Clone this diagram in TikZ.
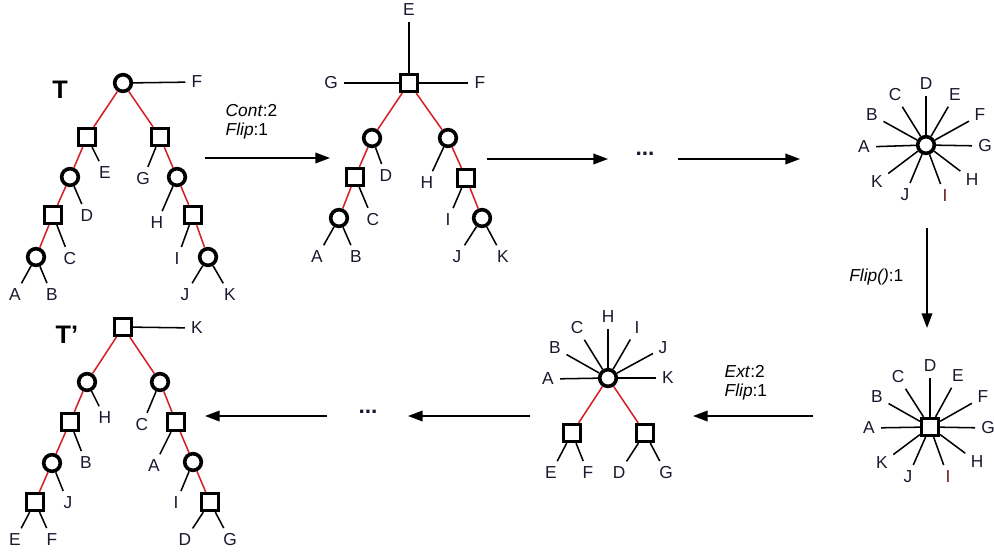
\documentclass[tikz,border=0pt]{standalone}
\usepackage{fontspec}
\setmainfont{Liberation Sans}
\usetikzlibrary{arrows.meta}
\definecolor{lblcol}{RGB}{25,25,48}
\definecolor{redge}{RGB}{214,32,40}
\definecolor{icol}{RGB}{110,25,35}

\begin{document}
\begin{tikzpicture}[
    x=0.75pt, y=-0.75pt,
    font=\fontsize{13}{14}\selectfont
]
	\tikzset{
	    cnode/.style = {circle, draw=black, line width=2.7pt, fill=white, minimum size=12.5pt, inner sep=0pt},
	    snode/.style = {rectangle, draw=black, line width=2.7pt, fill=white, minimum size=12.5pt, inner sep=0pt},
	    lbl/.style = {text=lblcol, inner sep=1.5pt},
	    tname/.style = {font=\fontsize{19}{20}\selectfont\bfseries},
	    dotsn/.style = {font=\fontsize{17}{18}\selectfont\bfseries, text=lblcol},
	    edger/.style = {line width=1.15pt, redge},
	    edgen/.style = {line width=1.15pt, black, shorten >=3pt},
	    edgea/.style = {-{Triangle[length=11pt,width=8pt]}, line width=1.15pt}
	}
	\useasboundingbox (0,0) rectangle (994,554);

	% tree T
	\node[tname] at (60,90) (tT) {T};
	\node[cnode] at (123,83) (t0) {};
	\node[snode] at (87,137) (t1) {};
	\node[snode] at (160,137) (t2) {};
	\node[cnode] at (70,177) (t3) {};
	\node[cnode] at (177,177) (t4) {};
	\node[snode] at (53,215) (t5) {};
	\node[snode] at (193,215) (t6) {};
	\node[cnode] at (36,257) (t7) {};
	\node[cnode] at (208,257) (t8) {};
	\node[lbl] at (197,82) (tF) {F};
	\node[lbl] at (105,173) (tE) {E};
	\node[lbl] at (143,179) (tG) {G};
	\node[lbl] at (87,216) (tD) {D};
	\node[lbl] at (157,223) (tH) {H};
	\node[lbl] at (70,259) (tC) {C};
	\node[lbl] at (177,259) (tI) {I};
	\node[lbl] at (15,295) (tA) {A};
	\node[lbl] at (52,295) (tB) {B};
	\node[lbl] at (185,295) (tJ) {J};
	\node[lbl] at (230,295) (tK) {K};
	\draw[edger] (t0) -- (t1) (t1) -- (t3) (t3) -- (t5) (t5) -- (t7)
	    (t0) -- (t2) (t2) -- (t4) (t4) -- (t6) (t6) -- (t8);
	\draw[edgen] (t0) edge (tF) (t1) edge (tE) (t2) edge (tG) (t3) edge (tD)
	    (t4) edge (tH) (t5) edge (tC) (t6) edge (tI) (t7) edge (tA) (t7) edge (tB)
	    (t8) edge (tJ) (t8) edge (tK);

	% after contraction
	\node[snode] at (409,83) (u0) {};
	\node[cnode] at (372,138) (u1) {};
	\node[cnode] at (448,138) (u2) {};
	\node[snode] at (355,177) (u3) {};
	\node[snode] at (466,178) (u4) {};
	\node[cnode] at (339,218) (u5) {};
	\node[cnode] at (482,218) (u6) {};
	\node[lbl] at (409,10) (uE) {E};
	\node[lbl] at (331,83) (uG) {G};
	\node[lbl] at (480,83) (uF) {F};
	\node[lbl] at (386,176) (uD) {D};
	\node[lbl] at (427,183) (uH) {H};
	\node[lbl] at (373,220) (uC) {C};
	\node[lbl] at (448,220) (uI) {I};
	\node[lbl] at (317,257) (uA) {A};
	\node[lbl] at (356,257) (uB) {B};
	\node[lbl] at (457,257) (uJ) {J};
	\node[lbl] at (503,257) (uK) {K};
	\draw[edger] (u0) -- (u1) (u1) -- (u3) (u3) -- (u5)
	    (u0) -- (u2) (u2) -- (u4) (u4) -- (u6);
	\draw[edgen] (u0) edge (uE) (u0) edge (uG) (u0) edge (uF) (u1) edge (uD)
	    (u2) edge (uH) (u3) edge (uC) (u4) edge (uI) (u5) edge (uA) (u5) edge (uB)
	    (u6) edge (uJ) (u6) edge (uK);

	% star with circle centre
	\node[cnode] at (926,145) (s0) {};
	\node[lbl] at (864,147) (sA) {A};
	\node[lbl] at (872,115) (sB) {B};
	\node[lbl] at (895,95) (sC) {C};
	\node[lbl] at (926,84) (sD) {D};
	\node[lbl] at (955,95) (sE) {E};
	\node[lbl] at (980,115) (sF) {F};
	\node[lbl] at (985,146) (sG) {G};
	\node[lbl] at (972,180) (sH) {H};
	\node[lbl, text=icol] at (945,196) (sI) {I};
	\node[lbl] at (905,195) (sJ) {J};
	\node[lbl] at (877,182) (sK) {K};
	\draw[edgen] (s0) edge (sA) (s0) edge (sB) (s0) edge (sC) (s0) edge (sD)
	    (s0) edge (sE) (s0) edge (sF) (s0) edge (sG) (s0) edge (sH)
	    (s0) edge (sI) (s0) edge (sJ) (s0) edge (sK);

	% star with square centre
	\node[snode] at (930,427) (r0) {};
	\node[lbl] at (869,428) (rA) {A};
	\node[lbl] at (877,397) (rB) {B};
	\node[lbl] at (898,377) (rC) {C};
	\node[lbl] at (930,366) (rD) {D};
	\node[lbl] at (958,376) (rE) {E};
	\node[lbl] at (983,397) (rF) {F};
	\node[lbl] at (988,428) (rG) {G};
	\node[lbl] at (977,462) (rH) {H};
	\node[lbl, text=icol] at (948,477) (rI) {I};
	\node[lbl] at (908,477) (rJ) {J};
	\node[lbl] at (882,463) (rK) {K};
	\draw[edgen] (r0) edge (rA) (r0) edge (rB) (r0) edge (rC) (r0) edge (rD)
	    (r0) edge (rE) (r0) edge (rF) (r0) edge (rG) (r0) edge (rH)
	    (r0) edge (rI) (r0) edge (rJ) (r0) edge (rK);

	% after extension
	\node[cnode] at (608,378) (v0) {};
	\node[snode] at (572,433) (v1) {};
	\node[snode] at (645,433) (v2) {};
	\node[lbl] at (548,379) (vA) {A};
	\node[lbl] at (555,348) (vB) {B};
	\node[lbl] at (577,328) (vC) {C};
	\node[lbl] at (608,317) (vH) {H};
	\node[lbl] at (637,328) (vI) {I};
	\node[lbl] at (663,348) (vJ) {J};
	\node[lbl] at (668,378) (vK) {K};
	\node[lbl] at (551,473) (vE) {E};
	\node[lbl] at (588,473) (vF) {F};
	\node[lbl] at (619,473) (vD) {D};
	\node[lbl] at (666,473) (vG) {G};
	\draw[edger] (v0) -- (v1) (v0) -- (v2);
	\draw[edgen] (v0) edge (vA) (v0) edge (vB) (v0) edge (vC) (v0) edge (vH)
	    (v0) edge (vI) (v0) edge (vJ) (v0) edge (vK)
	    (v1) edge (vE) (v1) edge (vF) (v2) edge (vD) (v2) edge (vG);

	% tree T'
	\node[tname] at (67,335) (wT) {T’};
	\node[snode] at (123,327) (w0) {};
	\node[cnode] at (87,382) (w1) {};
	\node[cnode] at (160,382) (w2) {};
	\node[snode] at (70,422) (w3) {};
	\node[snode] at (176,422) (w4) {};
	\node[cnode] at (52,463) (w5) {};
	\node[cnode] at (193,462) (w6) {};
	\node[snode] at (35,502) (w7) {};
	\node[snode] at (210,502) (w8) {};
	\node[lbl] at (197,328) (wK) {K};
	\node[lbl] at (105,418) (wH) {H};
	\node[lbl] at (142,425) (wC) {C};
	\node[lbl] at (86,463) (wB) {B};
	\node[lbl] at (154,466) (wA) {A};
	\node[lbl] at (68,503) (wJ) {J};
	\node[lbl] at (176,503) (wI) {I};
	\node[lbl] at (15,540) (wE) {E};
	\node[lbl] at (52,540) (wF) {F};
	\node[lbl] at (185,540) (wD) {D};
	\node[lbl] at (230,540) (wG) {G};
	\draw[edger] (w0) -- (w1) (w1) -- (w3) (w3) -- (w5) (w5) -- (w7)
	    (w0) -- (w2) (w2) -- (w4) (w4) -- (w6) (w6) -- (w8);
	\draw[edgen] (w0) edge (wK) (w1) edge (wH) (w2) edge (wC) (w3) edge (wB)
	    (w4) edge (wA) (w5) edge (wJ) (w6) edge (wI) (w7) edge (wE) (w7) edge (wF)
	    (w8) edge (wD) (w8) edge (wG);

	% steps between the trees
	\coordinate (a1s) at (205,158);
	\coordinate (a1e) at (330,158);
	\coordinate (a2s) at (487,159);
	\coordinate (a2e) at (608,159);
	\coordinate (a3s) at (678,159);
	\coordinate (a3e) at (800,159);
	\coordinate (a4s) at (927,228);
	\coordinate (a4e) at (927,328);
	\coordinate (a5s) at (813,416);
	\coordinate (a5e) at (693,416);
	\coordinate (a6s) at (530,416);
	\coordinate (a6e) at (408,416);
	\coordinate (a7s) at (327,416);
	\coordinate (a7e) at (205,416);
	\node[anchor=west, align=left] at (221,122) (op1) {\textit{Cont}:2\\\textit{Flip}:1};
	\node[anchor=east] at (908,277) (op2) {\textit{Flip()}:1};
	\node[anchor=west, align=left] at (720,383) (op3) {\textit{Ext}:2\\\textit{Flip}:1};
	\node[dotsn] at (645,154) (dots1) {...};
	\node[dotsn] at (368,412) (dots2) {...};
	\draw[edgea] (a1s) -- (a1e);
	\draw[edgea] (a2s) -- (a2e);
	\draw[edgea] (a3s) -- (a3e);
	\draw[edgea] (a4s) -- (a4e);
	\draw[edgea] (a5s) -- (a5e);
	\draw[edgea] (a6s) -- (a6e);
	\draw[edgea] (a7s) -- (a7e);
\end{tikzpicture}
\end{document}
